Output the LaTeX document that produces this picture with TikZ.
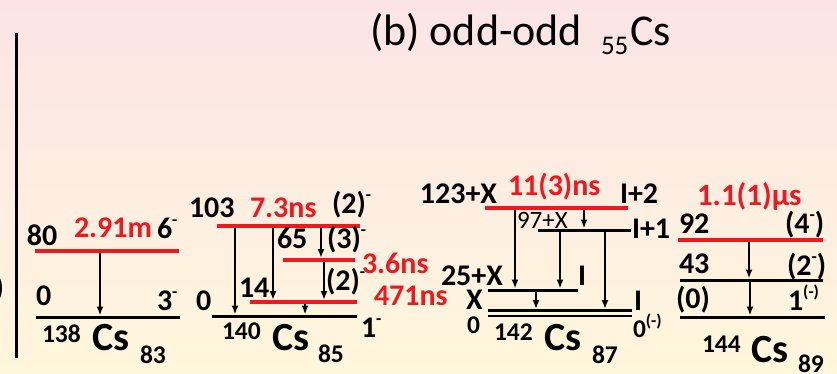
\documentclass[tikz,border=0pt]{standalone}
\usepackage{fontspec}
\setmainfont{Carlito}
\usetikzlibrary{arrows.meta}
\definecolor{lvred}{RGB}{238,24,30}
\definecolor{bgtop}{RGB}{252,228,230}
\definecolor{bgbot}{RGB}{255,247,220}
\newcommand{\supm}[1]{\raisebox{0.42em}{\fontsize{17}{17}\selectfont #1}}
\tikzset{
  lbl/.style={inner sep=0pt, outer sep=0pt, anchor=base west, font=\fontsize{30}{32}\selectfont\bfseries},
  rlbl/.style={lbl, text=lvred},
  small/.style={lbl, font=\fontsize{25.5}{27}\selectfont\bfseries},
  csl/.style={lbl, font=\fontsize{40}{42}\selectfont\bfseries},
  ttl/.style={lbl, font=\fontsize{44}{46}\selectfont},
  ttlsub/.style={lbl, font=\fontsize{27}{29}\selectfont},
  redlev/.style={draw=lvred, line width=4pt},
  blklev/.style={draw=black, line width=3pt},
  dbllev/.style={draw=black, line width=2.5pt},
  arr/.style={-{Latex[length=9pt,width=7pt]}, line width=1.8pt}
}
\begin{document}
\begin{tikzpicture}[x=1pt,y=-1pt]
\useasboundingbox (0,0) rectangle (837,374);
\fill[top color=bgtop, bottom color=bgbot] (0,0) rectangle (837,374);
% left bar and cut glyph
\coordinate (barT) at (16,33);
\coordinate (barB) at (16,358);
\draw[line width=3pt] (barT) -- (barB);
\node[lbl, anchor=base east] (cut) at (4,297) {)};
% title
\node[ttl] (title) at (370,46) {(b) odd-odd};
\node[ttlsub] (title55) at (601,55) {55};
\node[ttl] (titleCs) at (630,46) {Cs};

% ---------- 138Cs ----------
\coordinate (a80w) at (35,251);  \coordinate (a80e) at (179,251);
\coordinate (a0w) at (36,317);   \coordinate (a0e) at (180,317);
\draw[arr] (100,0 |- a80w) -- ([yshift=1.5pt]100,0 |- a0w);
\draw[redlev] (a80w) -- (a80e);
\draw[blklev] (a0w) -- (a0e);
\node[lbl] (a80) at (27,245) {80};
\node[rlbl] (a291) at (74,237) {2.91m};
\node[lbl] (a6) at (157,238) {6\supm{-}};
\node[lbl] (a0) at (36,305) {0};
\node[lbl] (a3) at (157,310) {3\supm{-}};
\node[small] (a138) at (42,342) {138};
\node[csl] (aCs) at (92,350) {Cs};
\node[small] (a83) at (140,363) {83};

% ---------- 140Cs ----------
\coordinate (b103w) at (217,226); \coordinate (b103e) at (360,226);
\coordinate (b65w) at (283,260);  \coordinate (b65e) at (355,260);
\coordinate (b14w) at (250,302);  \coordinate (b14e) at (357,302);
\coordinate (b0w) at (212,316);   \coordinate (b0e) at (357,316);
\draw[arr] (235,0 |- b103w) -- ([yshift=1.5pt]235,0 |- b0w);
\draw[arr] (273,0 |- b103w) -- ([yshift=2pt]273,0 |- b14w);
\draw[arr] (321,0 |- b103w) -- ([yshift=2pt]321,0 |- b65w);
\draw[arr] (324,0 |- b65w) -- ([yshift=2pt]324,0 |- b14w);
\draw[arr] (305,0 |- b14w) -- ([yshift=1.5pt]305,0 |- b0w);
\draw[redlev] (b103w) -- (b103e);
\draw[redlev] (b65w) -- (b65e);
\draw[redlev] (b14w) -- (b14e);
\draw[blklev] (b0w) -- (b0e);
\node[lbl] (b103) at (189,217) {103};
\node[rlbl] (b73) at (250,217) {7.3ns};
\node[lbl] (b2a) at (332,213) {(2)\supm{-}};
\node[lbl] (b65) at (277,248) {65};
\node[lbl] (b3) at (327,248) {(3)\supm{-}};
\node[rlbl] (b36) at (362,273) {3.6ns};
\node[lbl] (b2b) at (326,290) {(2)\supm{-}};
\node[lbl] (b14) at (239,297) {14};
\node[rlbl] (b471) at (374,305) {471ns};
\node[lbl] (b0) at (196,310) {0};
\node[lbl] (b1) at (361,337) {1\supm{-}};
\node[small] (b140) at (222,339) {140};
\node[csl] (bCs) at (272,350) {Cs};
\node[small] (b85) at (318,362) {85};

% ---------- 142Cs ----------
\coordinate (c123w) at (485,208); \coordinate (c123e) at (628,208);
\coordinate (c97w) at (538,230);  \coordinate (c97e) at (631,230);
\coordinate (c25w) at (488,290);  \coordinate (c25e) at (578,290);
\coordinate (cXw) at (488,310.5); \coordinate (cXe) at (632,310.5);
\coordinate (c0w) at (488,316);   \coordinate (c0e) at (632,316);
\draw[arr] (515,0 |- c123w) -- ([yshift=1.5pt]515,0 |- c25w);
\draw[arr] (584,0 |- c123w) -- ([yshift=1.5pt]584,0 |- c97w);
\draw[arr] (560,0 |- c97w) -- ([yshift=1.5pt]560,0 |- c25w);
\draw[arr] (605,0 |- c97w) -- ([yshift=1.5pt]605,0 |- cXw);
\draw[arr] (536,0 |- c25w) -- ([yshift=1.5pt]536,0 |- cXw);
\draw[redlev] (c123w) -- (c123e);
\draw[blklev] (c97w) -- (c97e);
\draw[blklev] (c25w) -- (c25e);
\draw[dbllev] (cXw) -- (cXe);
\draw[dbllev] (c0w) -- (c0e);
\node[lbl, anchor=base east] (c123) at (497,203) {123+X};
\node[rlbl] (c11) at (508,195) {11(3)ns};
\node[lbl] (cI2) at (620,203) {I+2};
\node[small, font=\fontsize{25}{27}\selectfont] (c97) at (517,228) {97+X};
\node[lbl] (cI1) at (632,238) {I+1};
\node[lbl] (c25) at (441,285) {25+X};
\node[lbl] (cIa) at (578,285) {I};
\node[lbl] (cX) at (466,309) {X};
\node[lbl] (cIb) at (634,310) {I};
\node[small] (c0) at (467,333) {0};
\node[small] (c142) at (494,340) {142};
\node[csl] (cCs) at (544,350) {Cs};
\node[small] (c87) at (592,363) {87};
\node[small] (c0m) at (633,337) {0\supm{(-)}};

% ---------- 144Cs ----------
\coordinate (d92w) at (678,240); \coordinate (d92e) at (823,240);
\coordinate (d43w) at (680,280); \coordinate (d43e) at (823,280);
\coordinate (d0w) at (680,317);  \coordinate (d0e) at (825,317);
\draw[arr] (749,0 |- d92w) -- ([yshift=1.5pt]749,0 |- d43w);
\draw[arr] (750,0 |- d43w) -- ([yshift=1.5pt]750,0 |- d0w);
\draw[redlev] (d92w) -- (d92e);
\draw[blklev] (d43w) -- (d43e);
\draw[blklev] (d0w) -- (d0e);
\node[rlbl, font=\fontsize{31}{33}\selectfont\bfseries] (d11) at (697,205) {1.1(1)μs};
\node[lbl] (d92) at (679,233) {92};
\node[lbl] (d4) at (785,233) {(4\supm{-})};
\node[lbl] (d43) at (679,273) {43};
\node[lbl] (d2) at (787,275) {(2\supm{-})};
\node[lbl] (d0) at (676,308) {(0)};
\node[lbl] (d1) at (788,310) {1\supm{(-)}};
\node[small] (d144) at (702,352) {144};
\node[csl] (dCs) at (751,362) {Cs};
\node[small] (d89) at (798,372) {89};
\end{tikzpicture}
\end{document}
